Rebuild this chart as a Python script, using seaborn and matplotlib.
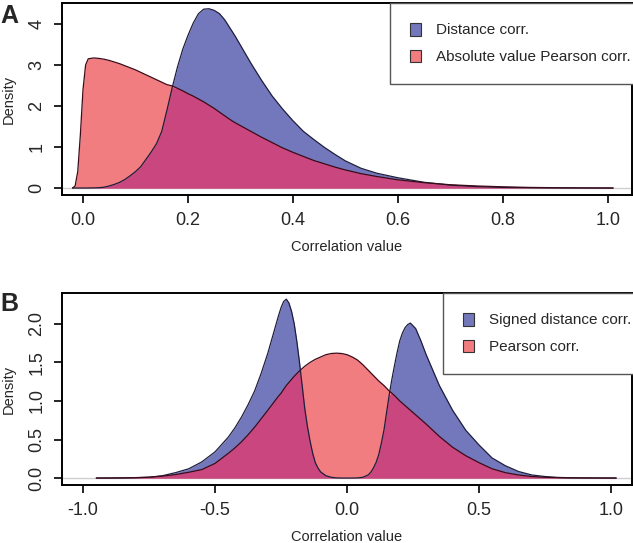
import numpy as np
import matplotlib
matplotlib.use("Agg")
import matplotlib.pyplot as plt
import seaborn as sns
from matplotlib.patches import Patch

sns.set_style("ticks")
plt.rcParams['font.family'] = ['Liberation Sans', 'DejaVu Sans']

# --- Panel A: distance corr. vs absolute Pearson corr. ---
xa = [-0.02, -0.015, -0.01, -0.005, 0.0, 0.005, 0.01, 0.02, 0.03, 0.04, 0.05, 0.06, 0.07,
      0.08, 0.09, 0.10, 0.11, 0.12, 0.13, 0.14, 0.15, 0.16, 0.17, 0.18, 0.19, 0.20, 0.21,
      0.22, 0.23, 0.24, 0.25, 0.26, 0.27, 0.28, 0.29, 0.30, 0.32, 0.34, 0.36, 0.38, 0.40,
      0.42, 0.44, 0.46, 0.48, 0.50, 0.53, 0.56, 0.60, 0.65, 0.70, 0.75, 0.80, 0.85, 0.90,
      0.95, 1.01]
dist_a = [0, 0, 0, 0, 0, 0, 0.001, 0.003, 0.008, 0.02, 0.05, 0.09, 0.14,
          0.21, 0.30, 0.40, 0.52, 0.70, 0.88, 1.08, 1.38, 1.90, 2.45, 2.95, 3.38, 3.72, 4.02,
          4.25, 4.36, 4.37, 4.33, 4.25, 4.10, 3.90, 3.70, 3.48, 3.04, 2.63, 2.25, 1.93, 1.64,
          1.38, 1.18, 0.99, 0.82, 0.66, 0.48, 0.36, 0.25, 0.14, 0.07, 0.035, 0.015, 0.006, 0.002,
          0.001, 0]
pear_a = [0, 0.05, 0.4, 1.3, 2.4, 3.0, 3.15, 3.17, 3.16, 3.14, 3.11, 3.07, 3.03,
          2.98, 2.93, 2.88, 2.82, 2.76, 2.70, 2.64, 2.58, 2.52, 2.49, 2.43, 2.37, 2.30, 2.24,
          2.17, 2.10, 2.02, 1.94, 1.85, 1.76, 1.67, 1.59, 1.52, 1.38, 1.24, 1.11, 0.98, 0.87,
          0.77, 0.67, 0.59, 0.51, 0.44, 0.35, 0.28, 0.20, 0.13, 0.08, 0.05, 0.03, 0.015, 0.008,
          0.003, 0]

# --- Panel B: signed distance corr. vs Pearson corr. ---
xb = [-0.95, -0.9, -0.85, -0.8, -0.75, -0.7, -0.65, -0.6, -0.55, -0.5, -0.45, -0.425, -0.4,
      -0.375, -0.35, -0.325, -0.3, -0.28, -0.26, -0.25, -0.24, -0.23, -0.22, -0.21, -0.2,
      -0.19, -0.18, -0.17, -0.16, -0.15, -0.14, -0.13, -0.12, -0.11, -0.1, -0.08,
      -0.06, -0.04, -0.02, 0.0, 0.02, 0.04, 0.06, 0.08, 0.09, 0.1, 0.11, 0.12, 0.13, 0.14,
      0.15, 0.16, 0.17, 0.18, 0.19, 0.2, 0.21, 0.22, 0.23, 0.24, 0.26, 0.28, 0.3, 0.35, 0.4,
      0.45, 0.5, 0.55, 0.6, 0.65, 0.7, 0.75, 0.8, 0.85, 0.9, 0.95, 1.02]
dist_b = [0, 0, 0.001, 0.004, 0.01, 0.03, 0.07, 0.12, 0.21, 0.34, 0.53, 0.65, 0.79,
          0.95, 1.13, 1.36, 1.62, 1.86, 2.10, 2.21, 2.29, 2.32, 2.27, 2.16, 2.00,
          1.77, 1.50, 1.20, 0.90, 0.67, 0.48, 0.32, 0.20, 0.13, 0.08, 0.03,
          0.01, 0.002, 0, 0, 0, 0.002, 0.01, 0.04, 0.075, 0.13, 0.20, 0.30, 0.45, 0.62,
          0.85, 1.08, 1.28, 1.46, 1.63, 1.78, 1.88, 1.95, 1.99, 2.01, 1.94, 1.78, 1.60, 1.20, 0.88,
          0.62, 0.43, 0.26, 0.16, 0.085, 0.04, 0.02, 0.008, 0.004, 0.002, 0.001, 0]
pear_b = [0, 0.001, 0.003, 0.006, 0.012, 0.025, 0.045, 0.075, 0.11, 0.19, 0.32, 0.39, 0.47,
          0.56, 0.66, 0.77, 0.88, 0.97, 1.06, 1.10, 1.15, 1.20, 1.24, 1.28, 1.32,
          1.355, 1.39, 1.42, 1.45, 1.475, 1.50, 1.52, 1.54, 1.555, 1.57, 1.60,
          1.615, 1.62, 1.615, 1.60, 1.57, 1.53, 1.47, 1.40, 1.365, 1.33, 1.295, 1.26, 1.23, 1.20,
          1.165, 1.13, 1.10, 1.07, 1.035, 1.00, 0.97, 0.94, 0.91, 0.88, 0.82, 0.76, 0.70, 0.54, 0.40,
          0.29, 0.20, 0.12, 0.07, 0.04, 0.02, 0.01, 0.005, 0.002, 0.001, 0.0005, 0]

blue = "#7377bb"
red = "#f17d80"
both = "#c9467f"

fig = plt.figure(figsize=(6.33, 5.43), dpi=100)
ax1 = fig.add_axes([62/633, 1 - 195/543, 570/633, 192/543])
ax2 = fig.add_axes([62/633, 1 - 485/543, 570/633, 192/543])


def draw(ax, x, d, p, xlim, ylim, xticks, yticks, xfmt, yfmt, labels, leg_x):
    x = np.array(x); d = np.array(d); p = np.array(p)
    ax.axhline(0, color="#cfcfcf", lw=1, zorder=0)
    ax.fill_between(x, 0, d, color=blue, lw=0, zorder=1)
    ax.fill_between(x, 0, p, color=red, lw=0, zorder=1)
    ax.fill_between(x, 0, np.minimum(d, p), color=both, lw=0, zorder=2)
    sns.lineplot(x=x, y=d, ax=ax, color="#1e1e3c", lw=0.9, sort=False, estimator=None, zorder=3)
    sns.lineplot(x=x, y=p, ax=ax, color="#3c0a18", lw=0.9, sort=False, estimator=None, zorder=3)
    ax.set_xlim(*xlim)
    ax.set_ylim(*ylim)
    ax.set_xticks(xticks)
    ax.set_xticklabels([xfmt.format(v) for v in xticks], fontsize=13)
    ax.set_yticks(yticks)
    ax.set_yticklabels([yfmt.format(v) for v in yticks], fontsize=13, rotation=90, va="center")
    ax.tick_params(direction="out", length=6, width=1.2, pad=6, color="black")
    for s in ax.spines.values():
        s.set_visible(True)
        s.set_linewidth(1.4)
        s.set_color("black")
    ax.set_xlabel("Correlation value", fontsize=10.5, va="top")
    ax.xaxis.set_label_coords(0.5, -0.235)
    ax.set_ylabel("Density", fontsize=10.5)
    ax.yaxis.set_label_coords(-0.082, 0.5)
    handles = [Patch(facecolor=blue, edgecolor="#333333", lw=0.8),
               Patch(facecolor=red, edgecolor="#333333", lw=0.8)]
    leg = ax.legend(handles, labels, loc="upper left", bbox_to_anchor=(leg_x, 1.0),
                    fontsize=11, frameon=True, fancybox=False, framealpha=1,
                    edgecolor="#555555", borderpad=1.3, borderaxespad=0,
                    handlelength=0.7, handleheight=0.9, handletextpad=1.0,
                    labelspacing=0.8)
    leg.get_frame().set_linewidth(1.0)
    leg.set_zorder(10)


draw(ax1, xa, dist_a, pear_a, (-0.04, 1.046), (-0.17, 4.51),
     [0.0, 0.2, 0.4, 0.6, 0.8, 1.0], [0, 1, 2, 3, 4], "{:.1f}", "{:d}",
     ["Distance corr.", "Absolute value Pearson corr."], (390 - 62) / 570)
draw(ax2, xb, dist_b, pear_b, (-1.08, 1.08), (-0.09, 2.40),
     [-1.0, -0.5, 0.0, 0.5, 1.0], [0.0, 0.5, 1.0, 1.5, 2.0], "{:.1f}", "{:.1f}",
     ["Signed distance corr.", "Pearson corr."], (443 - 62) / 570)

fig.text(0.0, 1 - 4/543, "A", fontsize=18, fontweight="bold", ha="left", va="top")
fig.text(0.0, 1 - 292/543, "B", fontsize=18, fontweight="bold", ha="left", va="top")

fig.savefig("out.png", dpi=100)
